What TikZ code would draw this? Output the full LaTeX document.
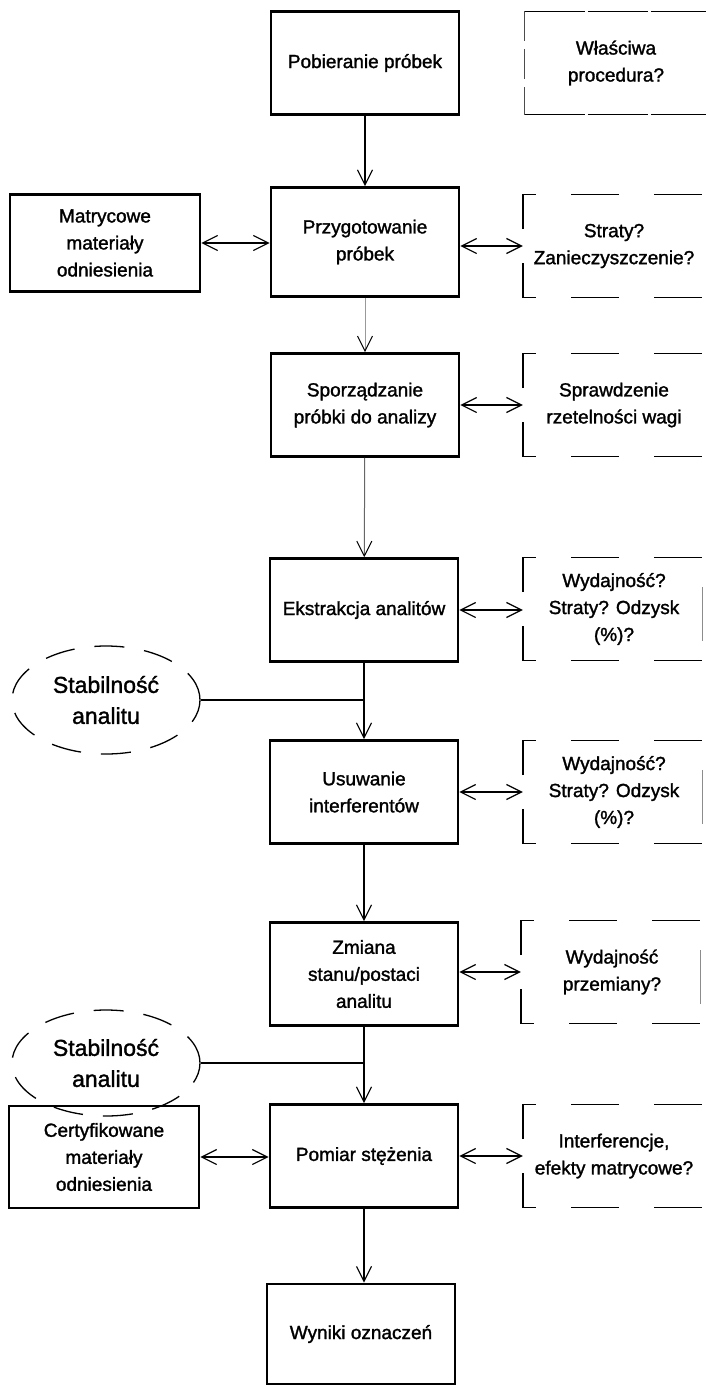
\documentclass[tikz,border=0pt]{standalone}
\usepackage{fontspec}
\setmainfont{Liberation Sans}[FakeBold=1.5]
\usetikzlibrary{arrows.meta,shapes.geometric,calc}
\begin{document}
\begin{tikzpicture}[x=1pt,y=-1pt,
  every node/.style={font=\fontsize{19}{27}\selectfont, align=center, inner sep=0pt},
  stepbox/.style={draw, line width=2.6pt, minimum width=188pt, minimum height=103pt},
  sidebox/.style={draw, line width=2.6pt, minimum width=190pt, minimum height=97pt},
  checkbox/.style={minimum width=182pt, minimum height=103pt},
  bracket/.style={line width=1.4pt, dash pattern=on 48pt off 35pt, dash phase=66pt},
  cloud/.style={ellipse, draw, line width=1.3pt, dash pattern=on 30pt off 20pt,
    minimum width=188pt, minimum height=108pt, font=\fontsize{23}{31}\selectfont},
  tip/.tip={Straight Barb[length=15pt,width=15pt]},
  flow/.style={line width=1.2pt, -tip},
  both/.style={line width=1.2pt, tip-tip},
  link/.style={line width=1.2pt}
]
\useasboundingbox (0,0) rectangle (705,1385);

% process column
\node[stepbox] (b1) at (365,63) {Pobieranie próbek};
\node[stepbox, minimum height=109pt] (b2) at (365,242) {Przygotowanie\\próbek};
\node[stepbox] (b3) at (365,405) {Sporządzanie\\próbki do analizy};
\node[stepbox] (b4) at (364,610) {Ekstrakcja analitów};
\node[stepbox] (b5) at (364,792) {Usuwanie\\interferentów};
\node[stepbox] (b6) at (364,974) {Zmiana\\stanu/postaci\\analitu};
\node[stepbox] (b7) at (364,1156) {Pomiar stężenia};
\node[stepbox, minimum height=100pt] (b8) at (361,1334) {Wyniki oznaczeń};

% reference materials
\node[sidebox] (m1) at (105,243) {Matrycowe\\materiały\\odniesienia};

% analyte stability
\node[cloud] (e1) at (106,700) {Stabilność\\analitu};
\node[cloud, minimum height=106pt] (e2) at (106,1063) {Stabilność\\analitu};
\node[sidebox, minimum height=102pt] (m2) at (104,1157) {Certyfikowane\\materiały\\odniesienia};

% questions to check at each step
\node[checkbox] (d1) at (616,63) {Właściwa\\procedura?};
\node[checkbox] (d2) at (614,246) {Straty?\\Zanieczyszczenie?};
\node[checkbox] (d3) at (614,405) {Sprawdzenie\\rzetelności wagi};
\node[checkbox] (d4) at (614,609) {Wydajność?\\Straty? Odzysk\\(\%)?};
\node[checkbox] (d5) at (614,792) {Wydajność?\\Straty? Odzysk\\(\%)?};
\node[checkbox] (d6) at (612,972) {Wydajność\\przemiany?};
\node[checkbox] (d7) at (614,1156) {Interferencje,\\efekty matrycowe?};

% frame of the first question box
\draw[line width=1.3pt, dash pattern=on 60pt off 3pt] (d1.north west) -- (d1.north east);
\draw[line width=1.3pt, dash pattern=on 60pt off 3pt] (d1.south west) -- (d1.south east);
\draw[line width=0.8pt, black!70, dash pattern=on 30pt off 8pt] (d1.north west) -- (d1.south west);

% bracket frames of the other question boxes
\foreach \d in {d2,d3,d4,d5,d6,d7}{
  \draw[bracket] (\d.west) -- (\d.north west) -- (\d.north east);
  \draw[bracket] (\d.west) -- (\d.south west) -- (\d.south east);
}
% faint right edges
\foreach \d in {d4,d5,d6}{
  \draw[line width=1pt, black!45] ([xshift=-3pt,yshift=-30pt]\d.north east) -- ([xshift=-3pt,yshift=20pt]\d.south east);
}

% main flow
\draw[flow] (b1) -- (b2);
\draw[line width=1pt, black!40, -{Straight Barb[length=15pt,width=15pt,color=black]}] (b2) -- (b3);
\draw[line width=1pt, black!60, -{Straight Barb[length=15pt,width=15pt,color=black]}] (b3) -- (b4);
\draw[flow] (b4) -- (b5);
\draw[flow] (b5) -- (b6);
\draw[flow] (b6) -- (b7);
\draw[flow] (b7.south) -- (b7.south |- b8.north);

% stability feeds into the flow
\draw[link] (e1.east) -- (e1.east -| b4.south);
\draw[link] (e2.east) -- (e2.east -| b6.south);

% two-way links
\draw[both] (m1.east) -- (m1.east -| b2.west);
\draw[both] (m2.east) -- (m2.east -| b7.west);
\draw[both] (b2.east |- d2.west) -- (d2.west);
\draw[both] (b3.east) -- (b3.east -| d3.west);
\draw[both] (b4.east) -- (b4.east -| d4.west);
\draw[both] (b5.east) -- (b5.east -| d5.west);
\draw[both] (b6.east |- d6.west) -- (d6.west);
\draw[both] (b7.east) -- (b7.east -| d7.west);
\end{tikzpicture}
\end{document}
